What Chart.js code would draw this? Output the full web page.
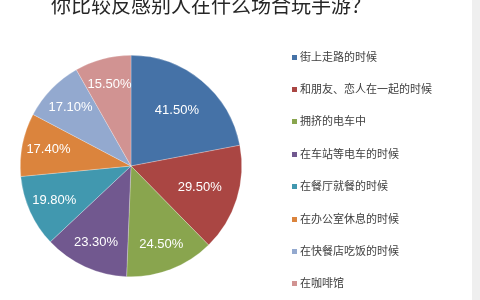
<!DOCTYPE html>
<html>
<head>
<meta charset="utf-8">
<script src="https://cdn.jsdelivr.net/npm/chart.js@4.4.1/dist/chart.umd.min.js"></script>
<style>
    html, body { margin: 0; padding: 0; background: #fff; }
    #wrap { width: 480px; height: 300px; position: relative; }
</style>
</head>
<body>
<div id="wrap"><canvas id="chart" width="480" height="300"></canvas></div>
<script>
const titulo = '你比较反感别人在什么场合玩手游？';
const categorias = [
    '街上走路的时候',
    '和朋友、恋人在一起的时候',
    '拥挤的电车中',
    '在车站等电车的时候',
    '在餐厅就餐的时候',
    '在办公室休息的时候',
    '在快餐店吃饭的时候',
    '在咖啡馆'
];
const porcentajes = [41.5, 29.5, 24.5, 23.3, 19.8, 17.4, 17.1, 15.5];
const colores = ['#4572A7', '#AA4643', '#89A54E', '#71588F', '#4198AF', '#DB843D', '#93A9CF', '#D19392'];

const CJK = '"Noto Sans CJK SC", "Noto Sans", sans-serif';

// fondo, franja gris a la derecha y título
const fondoPlugin = {
    id: 'fondo',
    beforeDraw(chart) {
        const ctx = chart.ctx;
        ctx.save();
        ctx.fillStyle = '#ffffff';
        ctx.fillRect(0, 0, chart.width, chart.height);
        ctx.fillStyle = '#efefef';
        ctx.fillRect(472, 0, 8, chart.height);
        ctx.fillStyle = '#262626';
        ctx.font = '20px ' + CJK;
        ctx.textAlign = 'left';
        ctx.textBaseline = 'alphabetic';
        ctx.fillText(titulo, 51, 13);
        ctx.restore();
    }
};

// etiquetas de porcentaje dentro de cada sector
const etiquetasPlugin = {
    id: 'etiquetas',
    afterDatasetsDraw(chart) {
        const ctx = chart.ctx;
        const meta = chart.getDatasetMeta(0);
        ctx.save();
        ctx.fillStyle = '#ffffff';
        ctx.font = '13px "Liberation Sans", Arial, sans-serif';
        ctx.textAlign = 'center';
        ctx.textBaseline = 'middle';
        meta.data.forEach((arc, i) => {
            const p = arc.getProps(['x', 'y', 'startAngle', 'endAngle', 'outerRadius'], true);
            const mid = (p.startAngle + p.endAngle) / 2;
            const frac = (p.endAngle - p.startAngle) > 0.9 ? 0.65 : 0.76;
            const r = p.outerRadius * frac;
            ctx.fillText(porcentajes[i].toFixed(2) + '%', p.x + Math.cos(mid) * r, p.y + Math.sin(mid) * r);
        });
        ctx.restore();
    }
};

// leyenda a la derecha
const leyendaPlugin = {
    id: 'leyenda',
    afterDraw(chart) {
        const ctx = chart.ctx;
        ctx.save();
        ctx.font = '11px ' + CJK;
        ctx.textAlign = 'left';
        ctx.textBaseline = 'middle';
        categorias.forEach((c, i) => {
            const y = 56.5 + i * 32.4;
            ctx.fillStyle = colores[i];
            ctx.fillRect(292, Math.round(y) - 2, 5, 5);
            ctx.fillStyle = '#404040';
            ctx.fillText(c, 300, y);
        });
        ctx.restore();
    }
};

new Chart(document.getElementById('chart'), {
    type: 'pie',
    data: {
        labels: categorias,
        datasets: [{
            data: porcentajes,
            backgroundColor: colores,
            borderColor: 'rgba(255,255,255,0.5)',
            borderWidth: 0.5
        }]
    },
    options: {
        responsive: false,
        animation: false,
        devicePixelRatio: 1,
        layout: { padding: { left: 20, top: 55, right: 238, bottom: 23 } },
        plugins: {
            legend: { display: false },
            tooltip: { enabled: false },
            title: { display: false }
        }
    },
    plugins: [fondoPlugin, etiquetasPlugin, leyendaPlugin]
});
</script>
</body>
</html>
